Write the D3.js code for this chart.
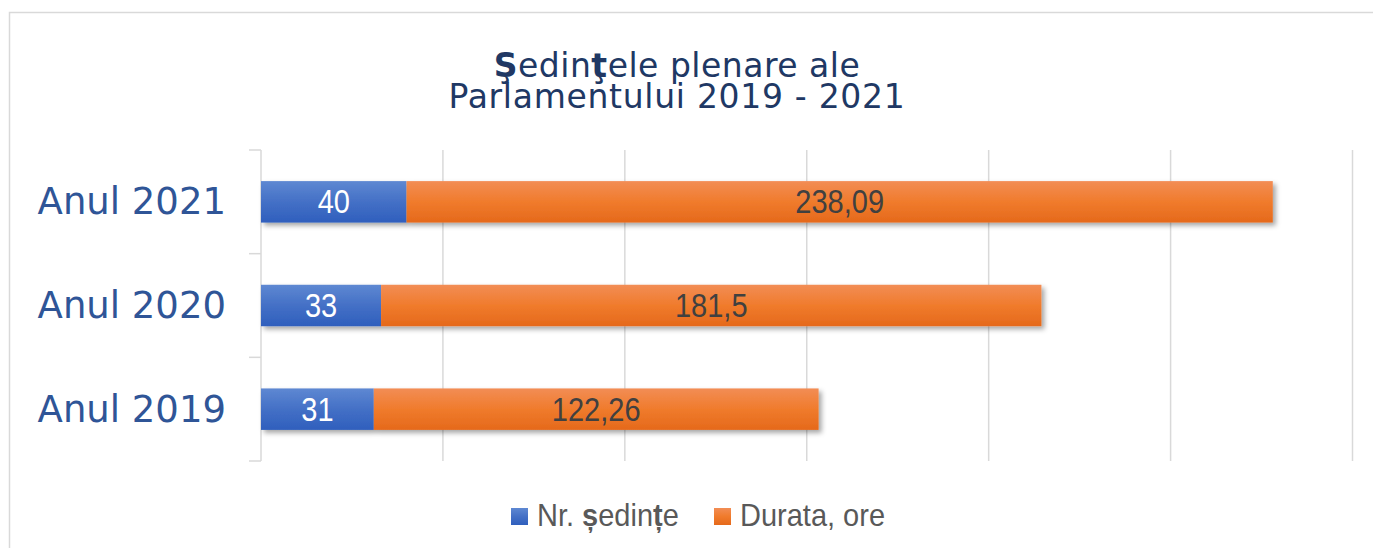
<!DOCTYPE html>
<html><head><meta charset="utf-8">
<script src="https://cdn.jsdelivr.net/npm/d3@7"></script>
<style>
html,body{margin:0;padding:0;background:#fff;}
svg{display:block;}
</style></head>
<body>
<script>
const categories = ["Anul 2021", "Anul 2020", "Anul 2019"];
const seriesNames = ["Nr. ședințe", "Durata, ore"];
const nrSedinte = [40, 33, 31];
const durata = [238.09, 181.5, 122.26];
const durataLabels = ["238,09", "181,5", "122,26"];
const xTicks = [0, 50, 100, 150, 200, 250, 300];

const W = 1373, H = 548;
const svg = d3.select("body").append("svg").attr("width", W).attr("height", H);
const defs = svg.append("defs");

const gBlue = defs.append("linearGradient").attr("id","gBlue").attr("x1",0).attr("y1",0).attr("x2",0).attr("y2",1);
gBlue.append("stop").attr("offset","0%").attr("stop-color","#5e88d2");
gBlue.append("stop").attr("offset","50%").attr("stop-color","#4470c6");
gBlue.append("stop").attr("offset","100%").attr("stop-color","#2f5fbd");
const gOr = defs.append("linearGradient").attr("id","gOr").attr("x1",0).attr("y1",0).attr("x2",0).attr("y2",1);
gOr.append("stop").attr("offset","0%").attr("stop-color","#f28d55");
gOr.append("stop").attr("offset","50%").attr("stop-color","#f07b2c");
gOr.append("stop").attr("offset","100%").attr("stop-color","#e5691b");
const f = defs.append("filter").attr("id","shadow").attr("x","-5%").attr("y","-30%").attr("width","115%").attr("height","180%");
f.append("feDropShadow").attr("dx",3).attr("dy",3).attr("stdDeviation",2.5).attr("flood-color","#000").attr("flood-opacity",0.35);

// frame
svg.append("rect").attr("x",9.5).attr("y",12.5).attr("width",1400).attr("height",600)
  .attr("fill","none").attr("stroke","#d9d9d9").attr("stroke-width",1.5);

// title
const tf = "DejaVu Sans, sans-serif";
const t1 = svg.append("text").attr("text-anchor","middle").attr("x",677).attr("y",77)
  .attr("font-family",tf).attr("font-size",33).attr("letter-spacing",0.5).attr("fill","#203864");
t1.append("tspan").attr("font-weight","bold").text("Ş");
t1.append("tspan").text("edin");
t1.append("tspan").attr("font-weight","bold").text("ţ");
t1.append("tspan").text("ele plenare ale");
svg.append("text").attr("text-anchor","middle").attr("x",677).attr("y",108)
  .attr("font-family",tf).attr("font-size",33).attr("letter-spacing",0.7).attr("fill","#203864")
  .text("Parlamentului 2019 - 2021");

const x0 = 261, x1 = 1352.5, y0 = 150, y1 = 461;
const x = d3.scaleLinear().domain([0, 300]).range([x0, x1]);
const y = d3.scaleBand().domain(categories).range([y0, y1]).paddingInner(0.6).paddingOuter(0.3);

// gridlines
svg.append("g").selectAll("line").data(xTicks.slice(1)).join("line")
  .attr("x1", d => x(d)).attr("x2", d => x(d)).attr("y1", y0).attr("y2", y1)
  .attr("stroke","#d9d9d9").attr("stroke-width",1.5);

// category axis line + boundary ticks
svg.append("line").attr("x1",x0).attr("x2",x0).attr("y1",y0).attr("y2",y1).attr("stroke","#d9d9d9").attr("stroke-width",1.5);
svg.append("g").selectAll("line").data(d3.range(categories.length+1)).join("line")
  .attr("x1", x0-12).attr("x2", x0)
  .attr("y1", i => y0 + (y1-y0)*i/categories.length).attr("y2", i => y0 + (y1-y0)*i/categories.length)
  .attr("stroke","#d9d9d9").attr("stroke-width",1.5);

// category labels via axis
const yAxis = svg.append("g").attr("transform",`translate(${226},0)`)
  .call(d3.axisLeft(y).tickSize(0).tickPadding(0));
yAxis.select(".domain").remove();
yAxis.selectAll("text").attr("font-family",tf).attr("font-size",37)
  .attr("fill","#2f5597").attr("dy",null)
  .attr("y", 12.5).attr("x",0);

// bars
const rows = categories.map((c,i)=>({c, a:nrSedinte[i], b:durata[i], bl:durataLabels[i]}));
const bars = svg.append("g").attr("filter","url(#shadow)");
bars.selectAll("rect.a").data(rows).join("rect").attr("class","a")
  .attr("x", d=>x(0)).attr("width", d=>x(d.a)-x(0))
  .attr("y", d=>y(d.c)).attr("height", y.bandwidth()).attr("fill","url(#gBlue)");
bars.selectAll("rect.b").data(rows).join("rect").attr("class","b")
  .attr("x", d=>x(d.a)).attr("width", d=>x(d.a+d.b)-x(d.a))
  .attr("y", d=>y(d.c)).attr("height", y.bandwidth()).attr("fill","url(#gOr)");

// labels (slightly stretched vertically, like the reference's narrow font)
const lf = "Liberation Sans, Arial, sans-serif";
svg.append("g").selectAll("text").data(rows).join("text")
  .attr("transform", d=>`translate(${(x(0)+x(d.a))/2},${y(d.c)+y.bandwidth()/2+11.5}) scale(1,1.13)`)
  .attr("text-anchor","middle").attr("font-family",lf).attr("font-size",29)
  .attr("fill","#fff").text(d=>d.a);
svg.append("g").selectAll("text").data(rows).join("text")
  .attr("transform", d=>`translate(${(x(d.a)+x(d.a+d.b))/2},${y(d.c)+y.bandwidth()/2+11.5}) scale(1,1.13)`)
  .attr("text-anchor","middle").attr("font-family",lf).attr("font-size",29)
  .attr("fill","#404040").text(d=>d.bl);

// legend
const legend = svg.append("g");
const legItems = [{fill:"url(#gBlue)", x:511}, {fill:"url(#gOr)", x:714}];
legItems.forEach(it=>{
  legend.append("rect").attr("x",it.x).attr("y",508).attr("width",17).attr("height",17).attr("fill",it.fill);
});
const lt1 = legend.append("text").attr("transform","translate(537,526) scale(1,1.1)").attr("font-family",lf).attr("font-size",29).attr("fill","#595959");
lt1.append("tspan").text("Nr. ");
lt1.append("tspan").attr("font-weight","bold").text("ș");
lt1.append("tspan").text("edin");
lt1.append("tspan").attr("font-weight","bold").text("ț");
lt1.append("tspan").text("e");
legend.append("text").attr("transform","translate(740,526) scale(1,1.1)").attr("font-family",lf).attr("font-size",29).attr("fill","#595959").text(seriesNames[1]);
</script>
</body></html>
